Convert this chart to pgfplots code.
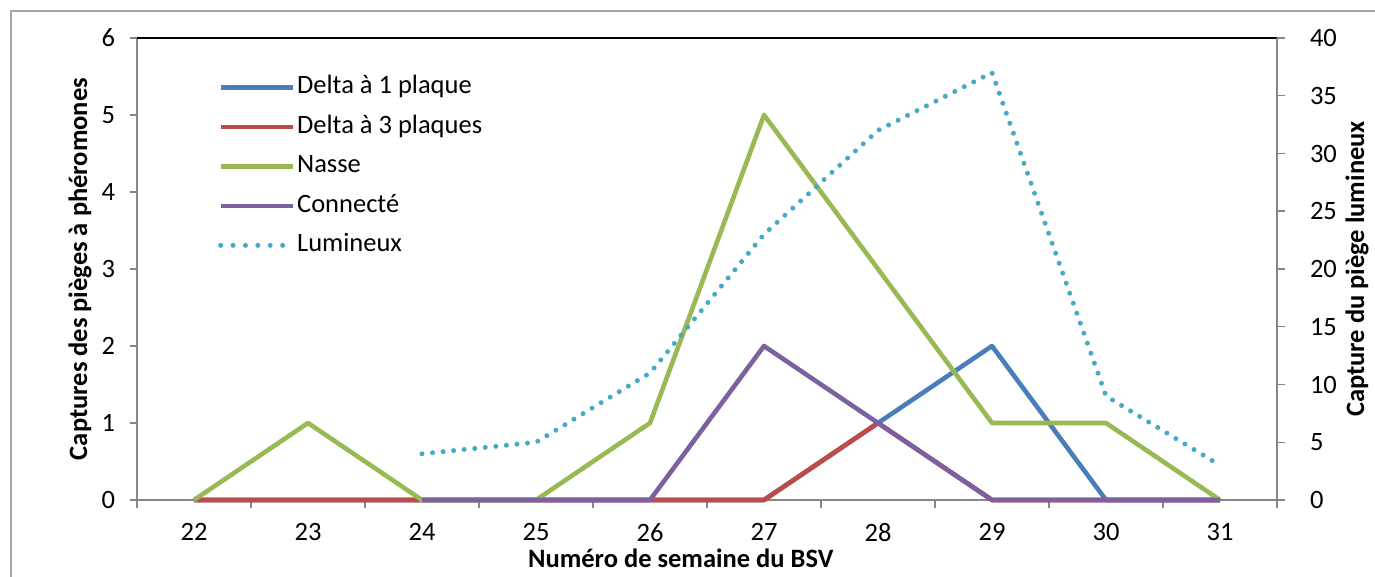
\documentclass[border=0pt]{standalone}
\usepackage{pgfplots}
\pgfplotsset{compat=1.18}
\usepackage{fontspec}
\setmainfont{Carlito}
\definecolor{c1}{HTML}{4A7EBB}
\definecolor{c2}{HTML}{BE4B48}
\definecolor{c3}{HTML}{98B954}
\definecolor{c4}{HTML}{7D60A0}
\definecolor{c5}{HTML}{46AAC5}
\definecolor{axgray}{HTML}{868686}
\definecolor{framegray}{HTML}{A6A6A6}
\newcommand{\fs}{\fontsize{26.5}{31}\selectfont}
\pgfplotsset{
  common/.style={
    at={(137pt,76pt)}, anchor=south west,
    scale only axis, width=1140pt, height=462pt,
    xmin=21.5, xmax=31.5, clip=false,
    axis line style={axgray, line width=1.5pt, -},
    tick style={axgray, line width=1.5pt},
    tick align=outside,
    major tick length=7.5pt,
    /pgf/number format/assume math mode=true,
    tick label style={font=\fs, black},
    label style={font=\bfseries\fs, black},
  },
  ser/.style={line width=4.6pt, line join=round},
}
\begin{document}
\begin{tikzpicture}[x=1pt,y=1pt]
\useasboundingbox (0,0) rectangle (1375,576);
\draw[framegray, line width=1.5pt] (11,-20) rectangle (1400,565);
\begin{axis}[common,
  ymin=0, ymax=6, ytick={0,1,...,6},
  axis x line*=bottom, axis y line*=left,
  xtick={21.5,22.5,...,31.5}, xticklabels={},
  extra x ticks={22,23,...,31},
  extra x tick style={major tick length=0pt, xticklabel style={inner sep=0pt, yshift=-23pt}},
  xlabel={Numéro de semaine du BSV},
  xlabel style={at={(rel axis cs:0.477,-0.127)}, anchor=center, inner sep=0pt},
  ylabel={Captures des pièges à phéromones},
  ylabel style={at={(rel axis cs:-0.05,0.5)}, anchor=center},
  yticklabel style={xshift=-11pt},
  legend image code/.code={\draw[#1] (0pt,0pt) -- (72pt,0pt);},
  legend cell align=left,
  legend style={at={(rel axis cs:0.071,0.925)}, anchor=north west, draw=none, fill=none,
    font=\fs, inner sep=0pt, row sep=10.5pt,
    nodes={text height=19pt, text depth=6pt},
    /tikz/every even column/.append style={column sep=4pt}},
]
\addplot[ser, c1] coordinates {(22,0)(23,0)(24,0)(25,0)(26,0)(27,0)(28,1)(29,2)(30,0)(31,0)};
\addlegendentry{Delta à 1 plaque}
\addplot[ser, c2] coordinates {(22,0)(23,0)(24,0)(25,0)(26,0)(27,0)(28,1)(29,0)(30,0)(31,0)};
\addlegendentry{Delta à 3 plaques}
\addplot[ser, c3] coordinates {(22,0)(23,1)(24,0)(25,0)(26,1)(27,5)(28,3)(29,1)(30,1)(31,0)};
\addlegendentry{Nasse}
\addplot[ser, c4] coordinates {(24,0)(25,0)(26,0)(27,2)(28,1)(29,0)(30,0)(31,0)};
\addlegendentry{Connecté}
\addlegendimage{c5, line width=5pt, line cap=round, dash pattern=on 0pt off 12.4pt}
\addlegendentry{Lumineux}
\draw[black, line width=1.5pt] (rel axis cs:0,1) -- (rel axis cs:1,1);
\end{axis}
\begin{axis}[common,
  ymin=0, ymax=40, ytick={0,5,...,40},
  axis x line=none, axis y line*=right,
  ylabel={Capture du piège lumineux},
  ylabel style={at={(rel axis cs:1.0702,0.5)}, anchor=center},
  yticklabel style={xshift=22pt},
]
\addplot[c5, line width=5pt, line cap=round, dash pattern=on 0pt off 10.6pt] coordinates {(24,4)(25,5)(26,11)(27,23)(28,32)(29,37)(30,9)(31,3)};
\end{axis}
\end{tikzpicture}
\end{document}
